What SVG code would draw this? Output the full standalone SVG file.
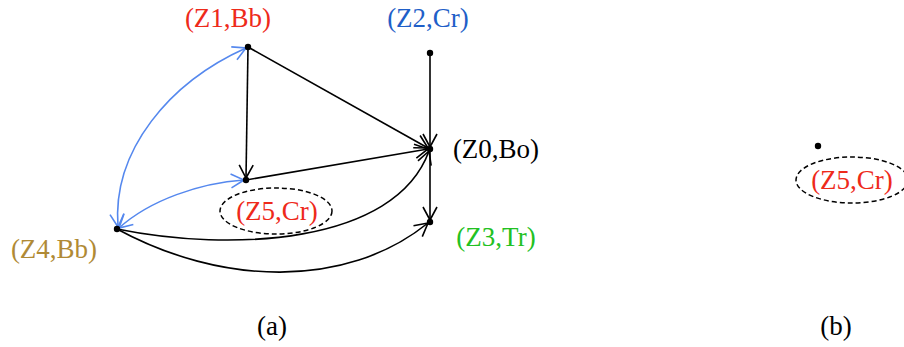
<svg xmlns="http://www.w3.org/2000/svg" width="904" height="347" viewBox="0 0 904 347">
<style>
.lbl{font-family:"Liberation Serif","Times New Roman",serif;font-size:27px;text-anchor:middle}
.e{fill:none;stroke:#000;stroke-width:1.6}
.b{fill:none;stroke:#5588ee;stroke-width:1.6}
.dash{fill:none;stroke:#000;stroke-width:1.5;stroke-dasharray:5,3}
</style>
<defs>
<marker id="ak" viewBox="-15 -8 17 16" markerWidth="17" markerHeight="16" refX="0" refY="0" orient="auto-start-reverse" markerUnits="userSpaceOnUse">
<path d="M-13,-7 L0,0 L-13,7" fill="none" stroke="#000" stroke-width="1.6"/>
</marker>
<marker id="ab" viewBox="-15 -8 17 16" markerWidth="17" markerHeight="16" refX="0" refY="0" orient="auto-start-reverse" markerUnits="userSpaceOnUse">
<path d="M-13,-7 L0,0 L-13,7" fill="none" stroke="#5588ee" stroke-width="1.6"/>
</marker>
</defs>
<g id="connectors">
<path class="e" d="M248,47 L246,178" marker-end="url(#ak)"/>
<path class="e" d="M248,47 L428,148" marker-end="url(#ak)"/>
<path class="e" d="M430,53 L430,147" marker-end="url(#ak)"/>
<path class="e" d="M430,149 L430,220" marker-end="url(#ak)"/>
<path class="e" d="M246,180 L428,149" marker-end="url(#ak)"/>
<path class="e" d="M117,229 C230,252 395,245 429,151" marker-end="url(#ak)"/>
<path class="e" d="M117,229 C220,285 345,290 428,223" marker-end="url(#ak)"/>
<path class="b" d="M118,227 C112,150 170,82 246,48" marker-start="url(#ab)" marker-end="url(#ab)"/>
<path class="b" d="M119,228 C150,200 200,183 244,180" marker-start="url(#ab)" marker-end="url(#ab)"/>
</g>
<g id="Z1"><circle cx="248" cy="47" r="3.2"/><text class="lbl" x="228" y="27" fill="#ee2a1a">(Z1,Bb)</text></g>
<g id="Z2"><circle cx="430" cy="53" r="3.2"/><text class="lbl" x="428" y="27" fill="#1f5fc8">(Z2,Cr)</text></g>
<g id="Z0"><circle cx="430" cy="149" r="3.2"/><text class="lbl" x="496" y="158" fill="#000">(Z0,Bo)</text></g>
<g id="Z3"><circle cx="430" cy="222" r="3.2"/><text class="lbl" x="496" y="246" fill="#22c122">(Z3,Tr)</text></g>
<g id="Z4"><circle cx="117" cy="229" r="3.2"/><text class="lbl" x="54" y="258" fill="#b08a35">(Z4,Bb)</text></g>
<g id="Z5"><circle cx="246" cy="180" r="3.2"/><ellipse class="dash" cx="276" cy="211" rx="56" ry="23"/><text class="lbl" x="277" y="220" fill="#ee2a1a">(Z5,Cr)</text></g>
<g id="Z5b"><circle cx="818" cy="146" r="3.2"/><ellipse class="dash" cx="852" cy="180" rx="56" ry="23"/><text class="lbl" x="852" y="189" fill="#ee2a1a">(Z5,Cr)</text></g>
<text class="lbl" x="272" y="335" fill="#000">(a)</text>
<text class="lbl" x="836" y="335" fill="#000">(b)</text>
</svg>
